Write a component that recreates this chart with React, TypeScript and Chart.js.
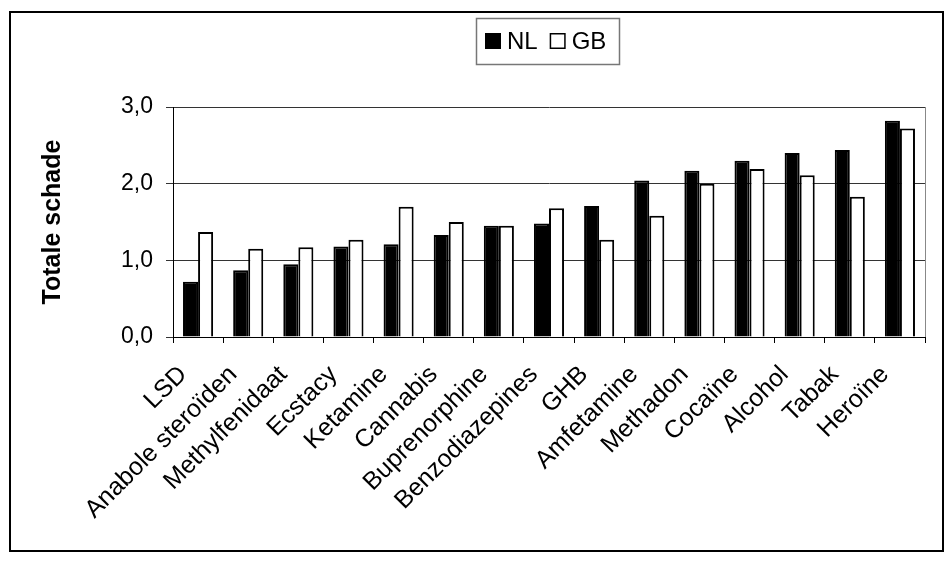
import React, { useEffect, useRef } from "react";
import { Chart, registerables } from "chart.js";

Chart.register(...registerables);

const categories = [
  "LSD",
  "Anabole steroïden",
  "Methylfenidaat",
  "Ecstacy",
  "Ketamine",
  "Cannabis",
  "Buprenorphine",
  "Benzodiazepines",
  "GHB",
  "Amfetamine",
  "Methadon",
  "Cocaïne",
  "Alcohol",
  "Tabak",
  "Heroïne",
];

const nlValues = [0.72, 0.87, 0.95, 1.18, 1.21, 1.33, 1.45, 1.48, 1.71, 2.04, 2.17, 2.3, 2.4, 2.44, 2.82];
const gbValues = [1.37, 1.15, 1.17, 1.27, 1.7, 1.5, 1.45, 1.68, 1.27, 1.58, 2.0, 2.19, 2.11, 1.83, 2.72];

const yTicks = [0, 1, 2, 3];
const yTitle = "Totale schade";
const FONT = "Arial, 'Liberation Sans', sans-serif";

const decorPlugin = {
  id: "decor",
  afterDraw(chart: any) {
    const ctx = chart.ctx;
    const ca = chart.chartArea;
    ctx.save();
    // plot area border (right)
    ctx.strokeStyle = "#888";
    ctx.lineWidth = 1;
    ctx.beginPath();
    ctx.moveTo(Math.round(ca.right) + 0.5, ca.top);
    ctx.lineTo(Math.round(ca.right) + 0.5, ca.bottom);
    ctx.stroke();

    // outer border
    ctx.strokeStyle = "#000";
    ctx.lineWidth = 2;
    ctx.strokeRect(10, 12, 933, 539);

    // y title
    ctx.save();
    ctx.translate(53, 222);
    ctx.rotate(-Math.PI / 2);
    ctx.fillStyle = "#000";
    ctx.font = `bold 25px ${FONT}`;
    ctx.textAlign = "center";
    ctx.textBaseline = "middle";
    ctx.fillText(yTitle, 0, 0);
    ctx.restore();

    // legend
    const ds = chart.data.datasets;
    ctx.strokeStyle = "#777";
    ctx.lineWidth = 1.5;
    ctx.strokeRect(476.5, 18.5, 143, 46);
    ctx.font = `24px ${FONT}`;
    ctx.textBaseline = "alphabetic";
    ctx.textAlign = "left";
    let x = 485;
    ds.forEach((d: any) => {
      ctx.fillStyle = d.backgroundColor;
      ctx.fillRect(x, 33, 16, 16);
      ctx.strokeStyle = "#000";
      ctx.lineWidth = 1.5;
      ctx.strokeRect(x + 0.75, 33.75, 14.5, 14.5);
      ctx.fillStyle = "#000";
      ctx.fillText(d.label, x + 22, 49);
      x += 22 + ctx.measureText(d.label).width + 12;
    });
    ctx.restore();
  },
};

export default function App() {
  const ref = useRef<HTMLCanvasElement>(null);
  useEffect(() => {
    const chart = new Chart(ref.current!, {
      type: "bar",
      data: {
        labels: categories,
        datasets: [
          {
            label: "NL",
            data: nlValues,
            backgroundColor: "#000",
            borderColor: "#000",
            borderWidth: 2,
            categoryPercentage: 0.6,
            barPercentage: 1.0,
          },
          {
            label: "GB",
            data: gbValues,
            backgroundColor: "#fff",
            borderColor: "#000",
            borderWidth: 2,
            categoryPercentage: 0.6,
            barPercentage: 1.0,
          },
        ],
      },
      options: {
        responsive: false,
        animation: false,
        devicePixelRatio: 1,
        layout: { padding: { top: 107, right: 26, left: 0, bottom: 0 } },
        plugins: {
          legend: { display: false },
          tooltip: { enabled: false },
        },
        scales: {
          x: {
            grid: {
              offset: true,
              drawOnChartArea: false,
              drawTicks: true,
              tickLength: 6,
              color: "#000",
            },
            border: { color: "#000", width: 1 },
            ticks: {
              minRotation: 45,
              maxRotation: 45,
              autoSkip: false,
              color: "#000",
              padding: 17,
              labelOffset: -15,
              font: { family: FONT, size: 25 },
            },
            afterFit: (s: any) => {
              s.height = 225;
            },
          },
          y: {
            min: 0,
            max: 3,
            afterBuildTicks: (s: any) => {
              s.ticks = yTicks.map((v) => ({ value: v }));
            },
            grid: { color: "#333", lineWidth: 1, tickLength: 7 },
            border: { color: "#000", width: 1 },
            ticks: {
              color: "#000",
              padding: 13,
              font: { family: FONT, size: 23 },
              callback: (v: any) => Number(v).toFixed(1).replace(".", ","),
            },
            afterFit: (s: any) => {
              s.width = 173;
            },
          },
        },
      },
      plugins: [decorPlugin],
    });
    return () => chart.destroy();
  }, []);
  return (
    <div style={{ position: "fixed", left: 0, top: 0, width: 951, height: 562, background: "#fff" }}>
      <canvas ref={ref} width={951} height={562} />
    </div>
  );
}
